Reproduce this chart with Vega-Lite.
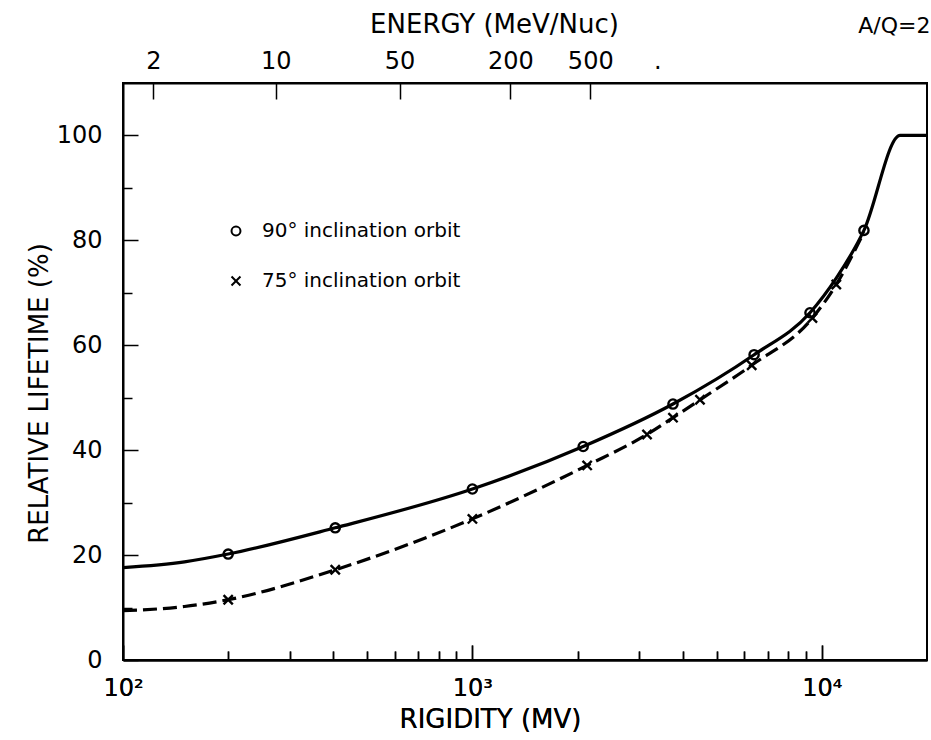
{
  "$schema": "https://vega.github.io/schema/vega-lite/v6.json",
  "width": 804,
  "height": 577,
  "autosize": {"type": "none"},
  "padding": {"left": 123, "top": 83, "right": 4, "bottom": 80},
  "background": "white",
  "config": {
    "view": {"stroke": "black", "strokeWidth": 2},
    "font": "DejaVu Sans",
    "axis": {
      "domainColor": "black", "domainWidth": 2, "tickColor": "black", "tickWidth": 1.5,
      "labelColor": "black", "titleColor": "black", "labelFont": "DejaVu Sans", "titleFont": "DejaVu Sans",
      "labelFontSize": 24, "titleFontSize": 26, "titleFontWeight": "normal", "grid": false, "labelOverlap": false, "labelFlush": false
    },
    "legend": {"labelFont": "DejaVu Sans", "labelFontSize": 20, "labelColor": "black", "labelLimit": 0}
  },
  "title": {"text": "A/Q=2", "anchor": "end", "fontSize": 22, "fontWeight": "normal", "font": "DejaVu Sans", "color": "black", "offset": -27, "dx": -3},
  "datasets": {
    "curves": [
      {"series": "90° inclination orbit", "R": 100, "v": 17.6},
      {"series": "90° inclination orbit", "R": 150, "v": 18.7},
      {"series": "90° inclination orbit", "R": 200, "v": 20.2},
      {"series": "90° inclination orbit", "R": 405, "v": 25.2},
      {"series": "90° inclination orbit", "R": 1000, "v": 32.6},
      {"series": "90° inclination orbit", "R": 2075, "v": 40.7},
      {"series": "90° inclination orbit", "R": 3750, "v": 48.8},
      {"series": "90° inclination orbit", "R": 6400, "v": 58.2},
      {"series": "90° inclination orbit", "R": 9250, "v": 66.2},
      {"series": "90° inclination orbit", "R": 11000, "v": 72.8},
      {"series": "90° inclination orbit", "R": 13200, "v": 81.9},
      {"series": "90° inclination orbit", "R": 16750, "v": 100},
      {"series": "90° inclination orbit", "R": 20000, "v": 100},
      {"series": "75° inclination orbit", "R": 100, "v": 9.4},
      {"series": "75° inclination orbit", "R": 150, "v": 10.2},
      {"series": "75° inclination orbit", "R": 200, "v": 11.5},
      {"series": "75° inclination orbit", "R": 405, "v": 17.2},
      {"series": "75° inclination orbit", "R": 1000, "v": 26.9},
      {"series": "75° inclination orbit", "R": 2130, "v": 37.1},
      {"series": "75° inclination orbit", "R": 3160, "v": 43.0},
      {"series": "75° inclination orbit", "R": 3750, "v": 46.2},
      {"series": "75° inclination orbit", "R": 4480, "v": 49.6},
      {"series": "75° inclination orbit", "R": 6300, "v": 56.2},
      {"series": "75° inclination orbit", "R": 9400, "v": 65.2},
      {"series": "75° inclination orbit", "R": 11000, "v": 71.6},
      {"series": "75° inclination orbit", "R": 13200, "v": 81.6}
    ],
    "markers": [
      {"series": "90° inclination orbit", "R": 200, "v": 20.2},
      {"series": "90° inclination orbit", "R": 405, "v": 25.2},
      {"series": "90° inclination orbit", "R": 1000, "v": 32.6},
      {"series": "90° inclination orbit", "R": 2075, "v": 40.7},
      {"series": "90° inclination orbit", "R": 3750, "v": 48.8},
      {"series": "90° inclination orbit", "R": 6400, "v": 58.2},
      {"series": "90° inclination orbit", "R": 9250, "v": 66.2},
      {"series": "90° inclination orbit", "R": 13200, "v": 81.9},
      {"series": "75° inclination orbit", "R": 200, "v": 11.5},
      {"series": "75° inclination orbit", "R": 405, "v": 17.2},
      {"series": "75° inclination orbit", "R": 1000, "v": 26.9},
      {"series": "75° inclination orbit", "R": 2130, "v": 37.1},
      {"series": "75° inclination orbit", "R": 3160, "v": 43.0},
      {"series": "75° inclination orbit", "R": 3750, "v": 46.2},
      {"series": "75° inclination orbit", "R": 4480, "v": 49.6},
      {"series": "75° inclination orbit", "R": 6300, "v": 56.2},
      {"series": "75° inclination orbit", "R": 9400, "v": 65.2},
      {"series": "75° inclination orbit", "R": 11000, "v": 71.6}
    ]
  },
  "layer": [
    {
      "data": {"name": "curves"},
      "transform": [{"filter": "datum.series == '90° inclination orbit'"}],
      "mark": {"type": "line", "interpolate": "monotone", "strokeWidth": 3.2, "color": "black", "strokeCap": "butt"},
      "encoding": {
        "x": {
          "field": "R", "type": "quantitative",
          "scale": {"type": "log", "domain": [100, 20000], "nice": false},
          "axis": {
            "orient": "bottom", "title": "RIGIDITY (MV)", "titlePadding": 0, "titleX": 367,
            "values": [100, 200, 300, 400, 500, 600, 700, 800, 900, 1000, 2000, 3000, 4000, 5000, 6000, 7000, 8000, 9000, 10000],
            "labelExpr": "datum.value == 100 ? '10²' : datum.value == 1000 ? '10³' : datum.value == 10000 ? '10⁴' : ''",
            "tickSize": {"condition": {"test": "datum.value == 100 || datum.value == 1000 || datum.value == 10000", "value": -15}, "value": -9},
            "labelPadding": 31
          }
        },
        "y": {
          "field": "v", "type": "quantitative",
          "scale": {"domain": [0, 110], "nice": false},
          "axis": {
            "title": "RELATIVE LIFETIME (%)", "titlePadding": 4, "titleY": 310,
            "values": [0, 10, 20, 30, 40, 50, 60, 70, 80, 90, 100],
            "labelExpr": "datum.value % 20 == 0 ? datum.label : ''",
            "tickSize": {"condition": {"test": "datum.value % 20 == 0", "value": -15}, "value": -9},
            "labelPadding": 36
          }
        }
      }
    },
    {
      "data": {"name": "curves"},
      "transform": [{"filter": "datum.series == '75° inclination orbit'"}],
      "mark": {"type": "line", "interpolate": "monotone", "strokeWidth": 3.2, "color": "black", "strokeCap": "butt", "strokeDash": [14, 6]},
      "encoding": {
        "x": {
          "field": "R", "type": "quantitative",
          "scale": {"type": "log", "domain": [100, 20000], "nice": false},
          "axis": {
            "orient": "bottom", "title": "RIGIDITY (MV)", "titlePadding": 0, "titleX": 367,
            "values": [100, 200, 300, 400, 500, 600, 700, 800, 900, 1000, 2000, 3000, 4000, 5000, 6000, 7000, 8000, 9000, 10000],
            "labelExpr": "datum.value == 100 ? '10²' : datum.value == 1000 ? '10³' : datum.value == 10000 ? '10⁴' : ''",
            "tickSize": {"condition": {"test": "datum.value == 100 || datum.value == 1000 || datum.value == 10000", "value": -15}, "value": -9},
            "labelPadding": 31
          }
        },
        "y": {
          "field": "v", "type": "quantitative",
          "scale": {"domain": [0, 110], "nice": false},
          "axis": {
            "title": "RELATIVE LIFETIME (%)", "titlePadding": 4, "titleY": 310,
            "values": [0, 10, 20, 30, 40, 50, 60, 70, 80, 90, 100],
            "labelExpr": "datum.value % 20 == 0 ? datum.label : ''",
            "tickSize": {"condition": {"test": "datum.value % 20 == 0", "value": -15}, "value": -9},
            "labelPadding": 36
          }
        }
      }
    },
    {
      "data": {"name": "markers"},
      "mark": {"type": "point", "filled": false, "strokeWidth": 2.4, "color": "black", "opacity": 1, "size": 85},
      "encoding": {
        "x": {
          "field": "R", "type": "quantitative",
          "scale": {"type": "log", "domain": [100, 20000], "nice": false},
          "axis": {
            "orient": "top", "title": "ENERGY (MeV/Nuc)", "titlePadding": 12, "titleX": 371,
            "values": [122.1, 273.8, 618.6, 1284.7, 2174.4, 3384],
            "labelExpr": "datum.value < 150 ? '2' : datum.value < 300 ? '10' : datum.value < 700 ? '50' : datum.value < 1500 ? '200' : datum.value < 3000 ? '500' : '.'",
            "tickSize": -16,
            "tickOpacity": {"condition": {"test": "datum.value > 3000", "value": 0}, "value": 1},
            "labelPadding": 26
          }
        },
        "y": {
          "field": "v", "type": "quantitative",
          "scale": {"domain": [0, 110], "nice": false},
          "axis": {
            "title": "RELATIVE LIFETIME (%)", "titlePadding": 4, "titleY": 310,
            "values": [0, 10, 20, 30, 40, 50, 60, 70, 80, 90, 100],
            "labelExpr": "datum.value % 20 == 0 ? datum.label : ''",
            "tickSize": {"condition": {"test": "datum.value % 20 == 0", "value": -15}, "value": -9},
            "labelPadding": 36
          }
        },
        "shape": {
          "field": "series", "type": "nominal",
          "scale": {"domain": ["90° inclination orbit", "75° inclination orbit"], "range": ["circle", "M-1,-1L1,1M-1,1L1,-1"]},
          "legend": {
            "title": null, "orient": "none", "legendX": 103, "legendY": 138,
            "symbolStrokeColor": "black", "symbolStrokeWidth": 2, "symbolSize": 80,
            "labelOffset": 16, "rowPadding": 30, "padding": 0
          }
        }
      }
    }
  ],
  "resolve": {"axis": {"x": "independent"}}
}
